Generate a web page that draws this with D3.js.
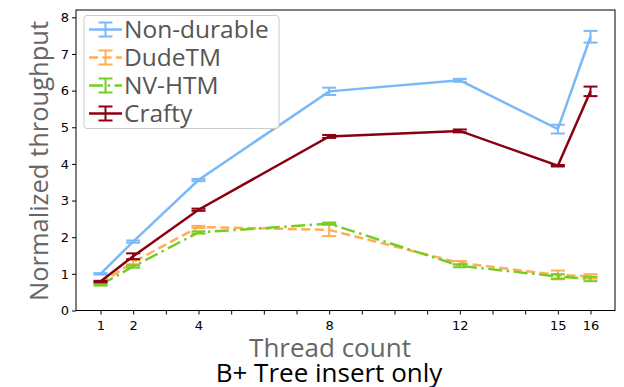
<!DOCTYPE html>
<html><head><meta charset="utf-8">
<script src="https://cdn.jsdelivr.net/npm/d3@7"></script>
<style>body{margin:0;background:#fff}svg{display:block}</style>
</head><body>
<svg id="c" width="624" height="387"></svg>
<script>
const threads = [1, 2, 4, 8, 12, 15, 16];
const xTickLabels = [1, 2, 4, 8, 12, 15, 16];
const xTickMarks = [1,2,3,4,5,6,7,8,9,10,11,12,13,14,15,16];
const yTicks = [0,1,2,3,4,5,6,7,8];
const seriesNames = ["Non-durable", "DudeTM", "NV-HTM", "Crafty"];
const nonDurable = [1.0, 1.88, 3.56, 5.98, 6.28, 4.95, 7.47];
const nonDurableErr = [0.02, 0.03, 0.03, 0.1, 0.04, 0.12, 0.16];
const dudeTM = [0.74, 1.32, 2.28, 2.2, 1.3, 0.97, 0.93];
const dudeTMErr = [0.02, 0.06, 0.03, 0.17, 0.05, 0.12, 0.06];
const nvHTM = [0.7, 1.2, 2.13, 2.37, 1.22, 0.93, 0.86];
const nvHTMErr = [0.02, 0.03, 0.03, 0.03, 0.04, 0.06, 0.06];
const crafty = [0.79, 1.48, 2.75, 4.75, 4.9, 3.95, 5.98];
const craftyErr = [0.02, 0.08, 0.03, 0.04, 0.04, 0.02, 0.13];

const colors = ["#7ab9f7", "#ffae55", "#77cc22", "#8b0010"];
const dashes = [null, "9,4.5", "14,4.5,2.5,4.5", null];
const vals = [nonDurable, dudeTM, nvHTM, crafty];
const errs = [nonDurableErr, dudeTMErr, nvHTMErr, craftyErr];

const svg = d3.select("#c");
const L = 76, R = 615, T = 10, B = 310.5;
const x = d3.scaleLinear().domain([0.25, 16.75]).range([L, R]);
const y = d3.scaleLinear().domain([0, 8.2]).range([B, T]);
const tickFont = "DejaVu Sans";

// axes
const gx = svg.append("g").attr("transform", `translate(0,${B})`)
  .call(d3.axisBottom(x).tickValues(xTickMarks).tickSize(4).tickFormat(d => xTickLabels.includes(d) ? d : ""));
const gy = svg.append("g").attr("transform", `translate(${L},0)`)
  .call(d3.axisLeft(y).tickValues(yTicks).tickSize(4).tickFormat(d3.format("d")));
[gx, gy].forEach(g => {
  g.select(".domain").remove();
  g.selectAll("text").attr("font-family", tickFont).attr("font-size", 13).attr("fill", "#000");
  g.selectAll("line").attr("stroke", "#000");
});
gx.selectAll("text").attr("dy", "0.95em");
svg.append("rect").attr("x", L).attr("y", T).attr("width", R - L).attr("height", B - T)
  .attr("fill", "none").attr("stroke", "#000").attr("stroke-width", 1);

// series
const line = d3.line().x(d => x(d[0])).y(d => y(d[1]));
const cap = 7;
vals.forEach((v, i) => {
  const g = svg.append("g");
  const pts = threads.map((t, j) => [t, v[j]]);
  g.append("path").attr("d", line(pts)).attr("fill", "none")
    .attr("stroke", colors[i]).attr("stroke-width", 2.5)
    .attr("stroke-dasharray", dashes[i]);
  threads.forEach((t, j) => {
    const lo = y(v[j] - errs[i][j]), hi = y(v[j] + errs[i][j]), cx = x(t);
    g.append("line").attr("x1", cx).attr("x2", cx).attr("y1", lo).attr("y2", hi)
      .attr("stroke", colors[i]).attr("stroke-width", 2);
    [lo, hi].forEach(yy => g.append("line").attr("x1", cx - cap).attr("x2", cx + cap)
      .attr("y1", yy).attr("y2", yy).attr("stroke", colors[i]).attr("stroke-width", 2));
  });
});

// legend
const lg = svg.append("g");
lg.append("rect").attr("x", 84).attr("y", 15.5).attr("width", 195).attr("height", 113)
  .attr("rx", 3).attr("fill", "#fff").attr("fill-opacity", 0.8).attr("stroke", "#ccc");
seriesNames.forEach((n, i) => {
  const yy = 29.5 + i * 28;
  lg.append("line").attr("x1", 89).attr("x2", 122).attr("y1", yy).attr("y2", yy)
    .attr("stroke", colors[i]).attr("stroke-width", 2.5).attr("stroke-dasharray", dashes[i]);
  lg.append("line").attr("x1", 105.5).attr("x2", 105.5).attr("y1", yy - 7).attr("y2", yy + 7)
    .attr("stroke", colors[i]).attr("stroke-width", 2);
  [yy - 7, yy + 7].forEach(c => lg.append("line").attr("x1", 98.5).attr("x2", 112.5)
    .attr("y1", c).attr("y2", c).attr("stroke", colors[i]).attr("stroke-width", 2));
  lg.append("text").attr("x", 124).attr("y", yy).attr("dy", "0.36em")
    .attr("font-family", "Open Sans").attr("font-size", 24.5).attr("fill", "#555").text(n);
});

// labels
svg.append("text").attr("x", 330).attr("y", 357).attr("text-anchor", "middle")
  .attr("font-family", "Open Sans").attr("font-size", 26).attr("fill", "#666").text("Thread count");
svg.append("text").attr("transform", "translate(48,161) rotate(-90)").attr("text-anchor", "middle")
  .attr("font-family", "Open Sans").attr("font-size", 25.5).attr("fill", "#666").text("Normalized throughput");
svg.append("text").attr("x", 329).attr("y", 382).attr("text-anchor", "middle")
  .attr("font-family", "Open Sans").attr("font-size", 26).attr("fill", "#000").text("B+ Tree insert only");
</script>
</body></html>
